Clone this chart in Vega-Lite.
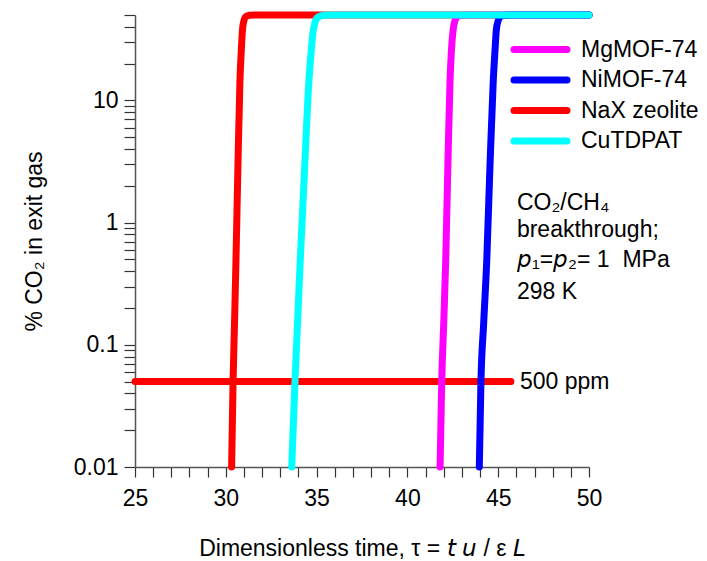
{
  "$schema": "https://vega.github.io/schema/vega-lite/v6.json",
  "width": 454,
  "height": 452,
  "autosize": {"type": "none"},
  "padding": {"left": 135, "top": 15, "right": 118, "bottom": 94},
  "background": "white",
  "config": {
    "view": {"stroke": null},
    "font": "Liberation Sans, DejaVu Sans, sans-serif",
    "axis": {
      "grid": false,
      "labelFontSize": 23,
      "titleFontSize": 23,
      "titleFontWeight": "normal",
      "labelColor": "black",
      "titleColor": "black",
      "domainColor": "#555555",
      "domainWidth": 1.5,
      "tickColor": "#333333",
      "tickWidth": 1.2,
      "labelFlush": false,
      "labelOverlap": false
    }
  },
  "datasets": {
    "curves": [
      {"series": "NaX zeolite", "tau": 30.32, "pct": 0.01},
      {"series": "NaX zeolite", "tau": 30.40, "pct": 0.05},
      {"series": "NaX zeolite", "tau": 30.48, "pct": 0.15},
      {"series": "NaX zeolite", "tau": 30.56, "pct": 0.49},
      {"series": "NaX zeolite", "tau": 30.67, "pct": 3},
      {"series": "NaX zeolite", "tau": 30.78, "pct": 14.7},
      {"series": "NaX zeolite", "tau": 30.85, "pct": 25},
      {"series": "NaX zeolite", "tau": 30.92, "pct": 38},
      {"series": "NaX zeolite", "tau": 31.0, "pct": 45},
      {"series": "NaX zeolite", "tau": 31.1, "pct": 48.5},
      {"series": "NaX zeolite", "tau": 31.3, "pct": 49.7},
      {"series": "NaX zeolite", "tau": 31.6, "pct": 50},
      {"series": "NaX zeolite", "tau": 50, "pct": 50},
      {"series": "MgMOF-74", "tau": 41.80, "pct": 0.01},
      {"series": "MgMOF-74", "tau": 41.89, "pct": 0.05},
      {"series": "MgMOF-74", "tau": 42.0, "pct": 0.15},
      {"series": "MgMOF-74", "tau": 42.11, "pct": 0.49},
      {"series": "MgMOF-74", "tau": 42.23, "pct": 3},
      {"series": "MgMOF-74", "tau": 42.35, "pct": 14.7},
      {"series": "MgMOF-74", "tau": 42.42, "pct": 25},
      {"series": "MgMOF-74", "tau": 42.52, "pct": 38},
      {"series": "MgMOF-74", "tau": 42.62, "pct": 45},
      {"series": "MgMOF-74", "tau": 42.75, "pct": 48.5},
      {"series": "MgMOF-74", "tau": 43.0, "pct": 49.7},
      {"series": "MgMOF-74", "tau": 43.3, "pct": 50},
      {"series": "MgMOF-74", "tau": 50, "pct": 50},
      {"series": "NiMOF-74", "tau": 43.96, "pct": 0.01},
      {"series": "NiMOF-74", "tau": 44.05, "pct": 0.05},
      {"series": "NiMOF-74", "tau": 44.2, "pct": 0.15},
      {"series": "NiMOF-74", "tau": 44.37, "pct": 0.49},
      {"series": "NiMOF-74", "tau": 44.55, "pct": 3},
      {"series": "NiMOF-74", "tau": 44.73, "pct": 14.7},
      {"series": "NiMOF-74", "tau": 44.82, "pct": 25},
      {"series": "NiMOF-74", "tau": 44.9, "pct": 38},
      {"series": "NiMOF-74", "tau": 45.0, "pct": 45},
      {"series": "NiMOF-74", "tau": 45.12, "pct": 48.5},
      {"series": "NiMOF-74", "tau": 45.35, "pct": 49.7},
      {"series": "NiMOF-74", "tau": 45.6, "pct": 50},
      {"series": "NiMOF-74", "tau": 50, "pct": 50},
      {"series": "CuTDPAT", "tau": 33.63, "pct": 0.01},
      {"series": "CuTDPAT", "tau": 33.81, "pct": 0.05},
      {"series": "CuTDPAT", "tau": 33.95, "pct": 0.15},
      {"series": "CuTDPAT", "tau": 34.10, "pct": 0.49},
      {"series": "CuTDPAT", "tau": 34.35, "pct": 3},
      {"series": "CuTDPAT", "tau": 34.58, "pct": 14.7},
      {"series": "CuTDPAT", "tau": 34.7, "pct": 25},
      {"series": "CuTDPAT", "tau": 34.8, "pct": 36},
      {"series": "CuTDPAT", "tau": 34.92, "pct": 44},
      {"series": "CuTDPAT", "tau": 35.1, "pct": 48.3},
      {"series": "CuTDPAT", "tau": 35.4, "pct": 49.7},
      {"series": "CuTDPAT", "tau": 35.8, "pct": 50},
      {"series": "CuTDPAT", "tau": 50, "pct": 50}
    ],
    "ppm": [{"tau": 25, "tau2": 45.7, "pct": 0.05, "label": "500 ppm"}],
    "notes": [
      {"tau": 46.03, "pct": 1.45, "text": "CO₂/CH₄"},
      {"tau": 46.03, "pct": 0.87, "text": "breakthrough;"},
      {"tau": 46.03, "pct": 0.494, "text": "𝘱₁=𝘱₂= 1\u00a0\u00a0MPa"},
      {"tau": 46.03, "pct": 0.27, "text": "298 K"}
    ]
  },
  "encoding": {
    "x": {
      "field": "tau",
      "type": "quantitative",
      "scale": {"domain": [25, 50], "nice": false, "zero": false},
      "axis": {
        "title": "Dimensionless time, τ = 𝘵 𝘶 / ε 𝘓",
        "values": [25,26,27,28,29,30,31,32,33,34,35,36,37,38,39,40,41,42,43,44,45,46,47,48,49,50],
        "labelExpr": "datum.value % 5 === 0 ? datum.label : ''",
        "tickSize": 10,
        "labelPadding": 10,
        "titlePadding": 27,
        "encode": {"ticks": {"update": {"y2": {"signal": "datum.value % 5 === 0 ? -10 : -7"}}}}
      }
    },
    "y": {
      "field": "pct",
      "type": "quantitative",
      "scale": {"type": "log", "domain": [0.01, 50], "nice": false},
      "axis": {
        "title": "% CO₂ in exit gas",
        "values": [0.01,0.02,0.03,0.04,0.05,0.06,0.07,0.08,0.09,0.1,0.2,0.3,0.4,0.5,0.6,0.7,0.8,0.9,1,2,3,4,5,6,7,8,9,10,20,30,40,50],
        "labelExpr": "datum.value === 0.01 ? '0.01' : datum.value === 0.1 ? '0.1' : datum.value === 1 ? '1' : datum.value === 10 ? '10' : ''",
        "tickSize": 11,
        "labelPadding": 6,
        "titlePadding": 27,
        "encode": {"ticks": {"update": {"x2": {"signal": "(datum.value === 0.01 || datum.value === 0.1 || datum.value === 1 || datum.value === 10) ? 11 : 8"}}}}
      }
    }
  },
  "layer": [
    {
      "data": {"name": "ppm"},
      "mark": {"type": "rule", "color": "#ff0000", "strokeWidth": 7, "strokeCap": "round"},
      "encoding": {"x2": {"field": "tau2"}}
    },
    {
      "data": {"name": "ppm"},
      "mark": {"type": "text", "align": "left", "baseline": "middle", "dx": 9, "fontSize": 23, "color": "black"},
      "encoding": {"x": {"field": "tau2", "type": "quantitative"}, "text": {"field": "label"}}
    },
    {
      "data": {"name": "curves"},
      "transform": [{"filter": "datum.series !== 'CuTDPAT'"}],
      "mark": {"type": "line", "strokeWidth": 7, "strokeCap": "round", "strokeJoin": "round", "interpolate": "monotone"},
      "encoding": {
        "color": {
          "field": "series",
          "type": "nominal",
          "scale": {"domain": ["MgMOF-74", "NiMOF-74", "NaX zeolite", "CuTDPAT"], "range": ["#ff00ff", "#0000ff", "#ff0000", "#00ffff"]},
          "legend": {
            "title": null,
            "orient": "none",
            "legendX": 392,
            "legendY": 21,
            "padding": 0,
            "symbolType": "M-2.65,0H2.65",
            "symbolSize": 400,
            "symbolStrokeWidth": 7,
            "symbolFillColor": "transparent",
            "labelFontSize": 23,
            "labelColor": "black",
            "labelOffset": 27,
            "rowPadding": 1.5,
            "encode": {"symbols": {"update": {"strokeCap": {"value": "round"}}}}
          }
        }
      }
    },
    {
      "data": {"name": "curves"},
      "transform": [{"filter": "datum.series === 'CuTDPAT'"}],
      "mark": {"type": "line", "strokeWidth": 7, "strokeCap": "round", "strokeJoin": "round", "interpolate": "monotone"},
      "encoding": {"color": {"field": "series", "type": "nominal"}}
    },
    {
      "data": {"name": "notes"},
      "mark": {"type": "text", "align": "left", "baseline": "middle", "fontSize": 23, "color": "black"},
      "encoding": {"text": {"field": "text"}}
    }
  ]
}
